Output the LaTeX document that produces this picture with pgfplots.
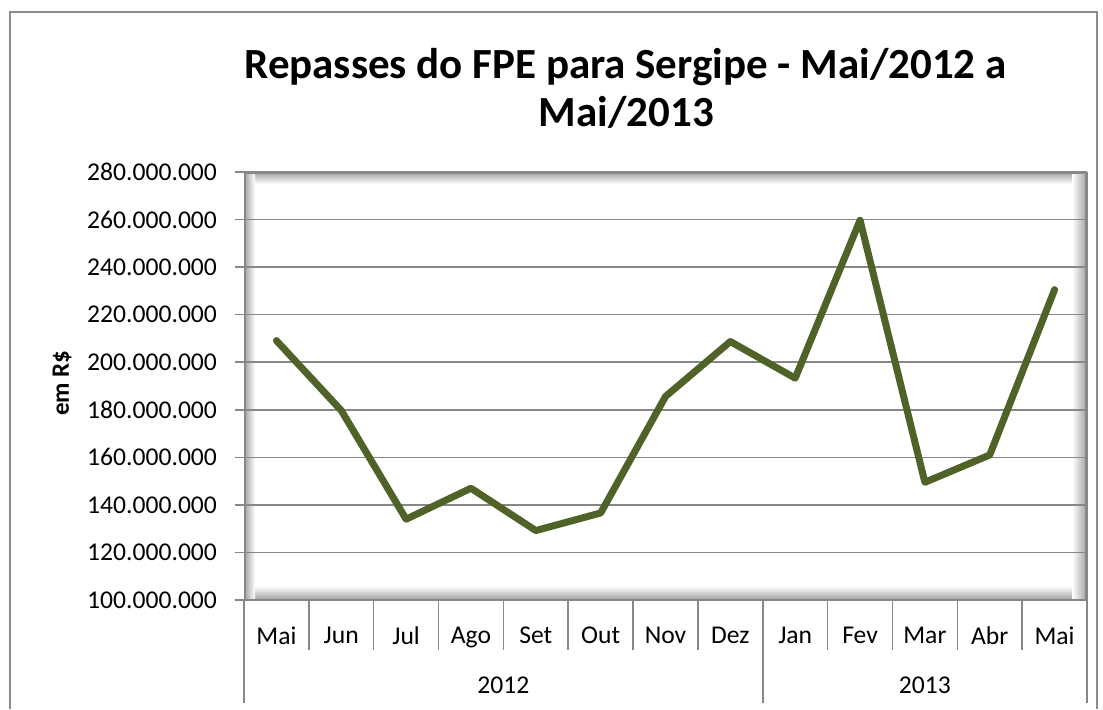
\documentclass[border=0pt]{standalone}
\usepackage{pgfplots}
\pgfplotsset{compat=1.18}
\usepackage{fontspec}
\setmainfont{Carlito}
\definecolor{olivel}{HTML}{4F6228}
\definecolor{gridg}{HTML}{878787}
\definecolor{frameg}{HTML}{8C8C8C}
\begin{document}
\begin{tikzpicture}[x=1pt,y=1pt]
\useasboundingbox (0,0) rectangle (551.5,354.5);
\draw[frameg, line width=0.75pt] (5,0) -- (5,348.5) -- (548.5,348.5) -- (548.5,0);
\node[font=\fontsize{21.5}{24}\selectfont\bfseries, anchor=base] at (312.75,315.5) {Repasses do FPE para Sergipe - Mai/2012 a};
\node[font=\fontsize{21.5}{24}\selectfont\bfseries, anchor=base] at (313.25,291.5) {Mai/2013};
\node[font=\fontsize{12.5}{15}\selectfont\bfseries, rotate=90] at (31,163) {em R\$};
% plot area inner shadow
\shade[top color=gray!75, bottom color=white] (122,262.5) rectangle (543.5,268.5);
\shade[top color=white, bottom color=gray!75] (122,54.5) rectangle (543.5,61.5);
\shade[left color=gray!75, right color=white] (122,54.5) rectangle (127.5,268.5);
\shade[left color=white, right color=gray!75] (536,54.5) rectangle (543.5,268.5);
\draw[gridg, line width=1.1pt] (122.3,54.5) rectangle (543.2,268.2);
\begin{axis}[
  at={(122pt,54.5pt)}, anchor=south west, scale only axis,
  width=421.5pt, height=214pt,
  xmin=-0.5, xmax=12.5,
  ymin=100000000, ymax=280000000,
  ytick={100000000,120000000,140000000,160000000,180000000,200000000,220000000,240000000,260000000,280000000},
  scaled y ticks=false,
  yticklabel style={xshift=-5.5pt, /pgf/number format/.cd, fixed, precision=0, 1000 sep={.}, assume math mode=true},
  tick label style={font=\fontsize{12.8}{15}\selectfont},
  ymajorgrids, grid style={gridg, line width=0.75pt},
  axis line style={draw=none},
  ytick pos=left, tick align=outside, major tick length=4.5pt,
  ytick style={gridg, line width=0.75pt},
  xtick={0,...,12},
  xticklabels={Mai,Jun,Jul,Ago,Set,Out,Nov,Dez,Jan,Fev,Mar,Abr,Mai},
  xtick style={draw=none},
  xticklabel style={yshift=-5.5pt},
  clip=false,
]
\addplot[olivel, line width=3.5pt, line join=round, line cap=round] coordinates {
 (0,209100000) (1,179700000) (2,134000000) (3,147000000) (4,129200000)
 (5,136600000) (6,185600000) (7,208700000) (8,193300000) (9,259700000)
 (10,149500000) (11,161000000) (12,230500000)};
\draw[gridg, line width=0.75pt] ([xshift=-4.5pt]rel axis cs:0,0) -- (rel axis cs:1,0);
\pgfplotsinvokeforeach{-0.5,0.5,...,12.5}{
  \draw[gridg, line width=0.75pt] (axis cs:#1,100000000) -- ++(0pt,-25pt);
}
\pgfplotsinvokeforeach{-0.5,7.5,12.5}{
  \draw[gridg, line width=0.75pt] (axis cs:#1,100000000) -- ++(0pt,-51.5pt);
}
\node[font=\fontsize{12.8}{15}\selectfont] at ([yshift=-42.5pt]axis cs:3.5,100000000) {2012};
\node[font=\fontsize{12.8}{15}\selectfont] at ([yshift=-42.5pt]axis cs:10,100000000) {2013};
\end{axis}
\end{tikzpicture}
\end{document}
